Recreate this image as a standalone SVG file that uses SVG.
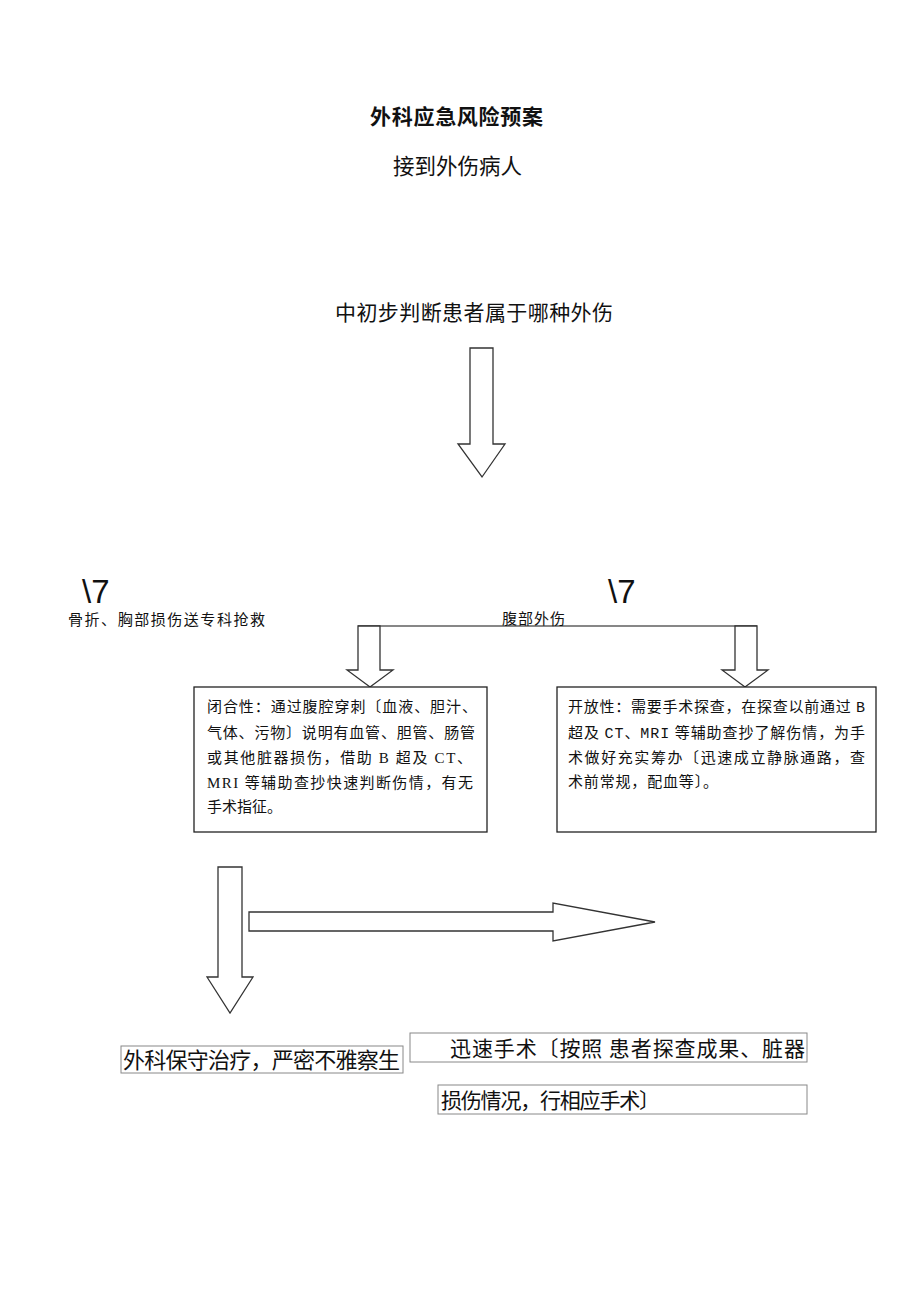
<svg xmlns="http://www.w3.org/2000/svg" width="920" height="1302" viewBox="0 0 920 1302">
<style>
.sans{font-family:"Noto Sans CJK SC","Liberation Sans",sans-serif;fill:#111;}
.serif{font-family:"Liberation Serif","Noto Sans CJK SC",serif;fill:#111;}
.mono{font-family:"Liberation Mono","Noto Sans CJK SC",monospace;}
.big{font-family:"Liberation Sans","DejaVu Sans",sans-serif;fill:#111;}
.box{fill:#fff;stroke:#222;stroke-width:1.3;}
.lbox{fill:none;stroke:#888;stroke-width:1;}
.arrow{fill:#fff;stroke:#333;stroke-width:1.3;stroke-linejoin:miter;}
.line{stroke:#111;stroke-width:1.2;fill:none;}
</style>
<rect width="920" height="1302" fill="#fff"/>
<g id="title"><text class="sans" x="370" y="124" font-size="21" font-weight="bold" textLength="173">外科应急风险预案</text></g>
<g id="receive"><text class="sans" x="393" y="174" font-size="21.5" textLength="129">接到外伤病人</text></g>
<g id="judge"><text class="sans" x="335" y="320" font-size="21" textLength="278">中初步判断患者属于哪种外伤</text></g>
<g id="connectors">
<polygon class="arrow" points="470,348 493,348 493,444 505,444 482,477 458,444 470,444"/>
<line class="line" x1="358" y1="626" x2="757" y2="626"/>
<polygon class="arrow" points="358,626 380,626 380,670 393,670 370,687 347,670 358,670"/>
<polygon class="arrow" points="735,626 757,626 757,670 768,670 745,687 722,670 735,670"/>
<polygon class="arrow" points="218,867 242,867 242,977 253,977 230,1013 207,977 218,977"/>
<polygon class="arrow" points="249,912 553,912 553,903 655,922 553,941 553,931 249,931"/>
</g>
<g id="fracture">
<text class="big" x="82" y="603" font-size="33">\7</text>
<text class="serif" x="68" y="625" font-size="15" textLength="197">骨折、胸部损伤送专科抢救</text>
</g>
<g id="abdomen">
<text class="big" x="608" y="603" font-size="33">\7</text>
<text class="serif" x="502" y="624" font-size="15" textLength="63">腹部外伤</text>
</g>
<g id="closed">
<rect class="box" x="194" y="687" width="293" height="145"/>
<text class="serif" x="207" y="712" font-size="15" textLength="270">闭合性：通过腹腔穿刺〔血液、胆汁、</text>
<text class="serif" x="207" y="738" font-size="15" textLength="268">气体、污物〕说明有血管、胆管、肠管</text>
<text class="serif" x="207" y="763" font-size="15" textLength="265">或其他脏器损伤，借助 B 超及 CT、</text>
<text class="serif" x="207" y="788" font-size="15" textLength="266">MRI 等辅助查抄快速判断伤情，有无</text>
<text class="serif" x="207" y="812" font-size="15">手术指征。</text>
</g>
<g id="open">
<rect class="box" x="557" y="687" width="319" height="145"/>
<text class="serif" x="568" y="712" font-size="15" textLength="297">开放性：需要手术探查，在探查以前通过 <tspan class="mono">B</tspan></text>
<text class="serif" x="568" y="738" font-size="15" textLength="297">超及 <tspan class="mono">CT</tspan>、<tspan class="mono">MRI</tspan> 等辅助查抄了解伤情，为手</text>
<text class="serif" x="568" y="763" font-size="15" textLength="297">术做好充实筹办〔迅速成立静脉通路，查</text>
<text class="serif" x="568" y="787" font-size="15" textLength="150">术前常规，配血等〕。</text>
</g>
<g id="conservative">
<rect class="lbox" x="121" y="1046" width="282" height="27"/>
<text class="sans" x="123" y="1068" font-size="22" textLength="277">外科保守治疗，严密不雅察生</text>
</g>
<g id="surgery">
<rect class="lbox" x="410" y="1033" width="397" height="29"/>
<text class="sans" x="450" y="1056" font-size="21" textLength="355">迅速手术〔按照 患者探查成果、脏器</text>
<rect class="lbox" x="438" y="1085" width="369" height="29"/>
<text class="sans" x="441" y="1108" font-size="21" textLength="219">损伤情况，行相应手术〕</text>
</g>
</svg>
